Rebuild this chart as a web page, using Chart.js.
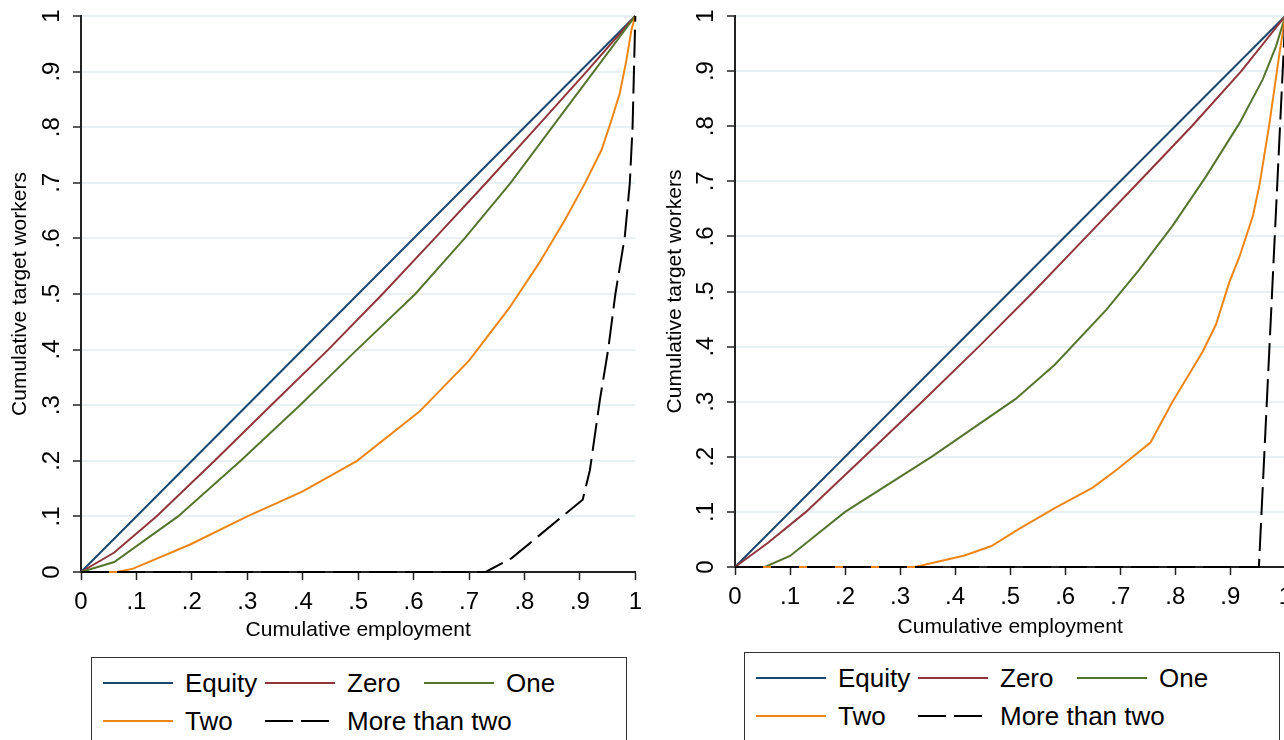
<!DOCTYPE html>
<html>
<head>
<meta charset="utf-8">
<script src="https://cdn.jsdelivr.net/npm/chart.js@4.4.1/dist/chart.umd.min.js"></script>
<style>
  html, body { margin: 0; padding: 0; background: #fff; }
  body { width: 1284px; height: 740px; overflow: hidden; position: relative;
         font-family: "Liberation Sans", Arial, Helvetica, sans-serif; }
  canvas { position: absolute; top: 0; }
  .legend { position: absolute; width: 536px; height: 120px; box-sizing: border-box;
            border: 1.5px solid #333; background: #fff; }
  .item { position: absolute; display: flex; align-items: center; height: 30px;
          font-size: 26px; color: #000; white-space: nowrap; }
  .item svg { display: block; margin-right: 12px; }
</style>
</head>
<body>
<canvas id="leftChart" width="650" height="660" style="left:0"></canvas>
<canvas id="rightChart" width="650" height="660" style="left:650px"></canvas>
<div id="leftLegend" class="legend" style="left:91px; top:657px"></div>
<div id="rightLegend" class="legend" style="left:744px; top:652px"></div>
<script>
'use strict';

// ─── Data ─────────────────────────────────────────────────────────────────────

const seriesNames = ['Equity', 'Zero', 'One', 'Two', 'More than two'];
const xTickValues = [0, 0.1, 0.2, 0.3, 0.4, 0.5, 0.6, 0.7, 0.8, 0.9, 1];
const xTickLabels = ['0', '.1', '.2', '.3', '.4', '.5', '.6', '.7', '.8', '.9', '1'];
const yTickValues = [0, 0.1, 0.2, 0.3, 0.4, 0.5, 0.6, 0.7, 0.8, 0.9, 1];
const yTickLabels = ['0', '.1', '.2', '.3', '.4', '.5', '.6', '.7', '.8', '.9', '1'];

// left panel
const leftEquityX = [0, 1];
const leftEquityY = [0, 1];
const leftZeroX = [0, 0.06, 0.136, 0.241, 0.343, 0.446, 0.544, 0.638, 0.731, 0.822, 0.912, 1];
const leftZeroY = [0, 0.035, 0.1, 0.2, 0.3, 0.4, 0.5, 0.6, 0.7, 0.8, 0.9, 1];
const leftOneX = [0, 0.06, 0.175, 0.288, 0.395, 0.498, 0.603, 0.692, 0.775, 0.85, 0.925, 1];
const leftOneY = [0, 0.018, 0.1, 0.2, 0.3, 0.4, 0.5, 0.6, 0.7, 0.8, 0.9, 1];
const leftTwoX = [0, 0.065, 0.094, 0.196, 0.3, 0.4, 0.498, 0.61, 0.7, 0.772, 0.826, 0.873, 0.909, 0.939, 0.957, 0.972, 0.984, 0.993, 1];
const leftTwoY = [0, 0, 0.006, 0.049, 0.1, 0.145, 0.2, 0.288, 0.38, 0.474, 0.555, 0.633, 0.699, 0.759, 0.813, 0.861, 0.921, 0.975, 1];
const leftMoreX = [0, 0.73, 0.777, 0.905, 0.918, 0.936, 0.951, 0.964, 0.981, 0.99, 0.995, 1];
const leftMoreY = [0, 0, 0.025, 0.13, 0.183, 0.309, 0.4, 0.5, 0.603, 0.699, 0.8, 1];

// right panel
const rightEquityX = [0, 1];
const rightEquityY = [0, 1];
const rightZeroX = [0, 0.06, 0.129, 0.235, 0.34, 0.443, 0.543, 0.639, 0.735, 0.83, 0.92, 1];
const rightZeroY = [0, 0.044, 0.1, 0.2, 0.3, 0.4, 0.5, 0.6, 0.7, 0.8, 0.9, 1];
const rightOneX = [0, 0.054, 0.1, 0.2, 0.357, 0.51, 0.581, 0.675, 0.735, 0.795, 0.856, 0.917, 0.959, 0.983, 1];
const rightOneY = [0, 0, 0.02, 0.1, 0.2, 0.305, 0.367, 0.467, 0.54, 0.619, 0.709, 0.806, 0.885, 0.945, 1];
const rightTwoX = [0, 0.327, 0.417, 0.466, 0.514, 0.581, 0.65, 0.693, 0.755, 0.795, 0.85, 0.874, 0.898, 0.917, 0.941, 0.953, 0.971, 0.989, 1];
const rightTwoY = [0, 0, 0.021, 0.038, 0.068, 0.107, 0.144, 0.176, 0.226, 0.3, 0.391, 0.44, 0.516, 0.564, 0.637, 0.693, 0.804, 0.93, 1];
const rightMoreX = [0, 0.952, 0.976, 1];
const rightMoreY = [0, 0, 0.5, 1];

// ─── Styles ───────────────────────────────────────────────────────────────────

const FONT = '"Liberation Sans", Arial, Helvetica, sans-serif';
const seriesColors = ['#1a476f', '#90353b', '#55752f', '#ee8616', '#000000'];
const seriesDashes = [[], [], [], [], [28, 8]];
const AXIS = '#222';
const GRID = 'rgb(232,240,243)';

const pts = (xs, ys) => xs.map((x, i) => ({ x, y: ys[i] }));

// y tick labels in the reference are rotated; draw them at the scale's own pixels
const rotatedYLabels = {
  id: 'rotatedYLabels',
  afterDraw(chart, args, opts) {
    const scale = chart.scales.y;
    const ctx = chart.ctx;
    ctx.save();
    ctx.font = `24px ${FONT}`;
    ctx.fillStyle = '#000';
    ctx.textAlign = 'center';
    ctx.textBaseline = 'alphabetic';
    yTickValues.forEach((v, i) => {
      ctx.save();
      ctx.translate(scale.right - opts.gap, scale.getPixelForValue(v));
      ctx.rotate(-Math.PI / 2);
      ctx.fillText(yTickLabels[i], 0, 0);
      ctx.restore();
    });
    ctx.restore();
  },
};

function makePanel(canvasId, xsList, ysList, g) {
  const datasets = xsList.map((xs, i) => ({
    label: seriesNames[i],
    data: pts(xs, ysList[i]),
    borderColor: seriesColors[i],
    borderWidth: 2,
    borderDash: seriesDashes[i],
    pointRadius: 0,
    tension: 0,
    fill: false,
    clip: false,
    order: xsList.length - 1 - i,
  }));

  return new Chart(document.getElementById(canvasId), {
    type: 'line',
    data: { datasets },
    plugins: [rotatedYLabels],
    options: {
      responsive: false,
      animation: false,
      devicePixelRatio: 1,
      layout: { padding: { top: g.top, right: g.right, left: 0, bottom: 0 } },
      plugins: {
        legend: { display: false },
        tooltip: { enabled: false },
        rotatedYLabels: { gap: 22 },
      },
      scales: {
        x: {
          type: 'linear',
          min: 0,
          max: 1,
          afterBuildTicks: (s) => { s.ticks = xTickValues.map(v => ({ value: v })); },
          afterFit: (s) => { s.height = g.xHeight; },
          border: { display: true, color: AXIS, width: 2 },
          grid: { drawOnChartArea: false, drawTicks: true, tickLength: 8, tickColor: AXIS, tickWidth: 1.5 },
          ticks: {
            color: '#000',
            padding: 8,
            maxRotation: 0,
            font: { family: FONT, size: 24 },
            callback: (v, i) => xTickLabels[i],
          },
          title: {
            display: true,
            text: 'Cumulative employment',
            color: '#000',
            font: { family: FONT, size: 21, lineHeight: 1.2 },
            padding: { top: 0, bottom: g.xTitlePad },
          },
        },
        y: {
          type: 'linear',
          min: 0,
          max: 1,
          afterBuildTicks: (s) => { s.ticks = yTickValues.map(v => ({ value: v })); },
          afterFit: (s) => { s.width = g.yWidth; },
          border: { display: true, color: AXIS, width: 2 },
          grid: { color: GRID, lineWidth: 2, drawTicks: true, tickLength: 8, tickColor: AXIS, tickWidth: 1.5 },
          ticks: { display: false },
          title: {
            display: true,
            text: 'Cumulative target workers',
            color: '#000',
            font: { family: FONT, size: 21, lineHeight: 1.2 },
            padding: { top: g.yTitlePad, bottom: 0 },
          },
        },
      },
    },
  });
}

function buildLegend(id) {
  const box = document.getElementById(id);
  const cols = [11, 173, 332];
  const rows = [25, 63];
  seriesNames.forEach((name, i) => {
    const item = document.createElement('div');
    item.className = 'item';
    item.style.left = cols[i % 3] + 'px';
    item.style.top = (rows[Math.floor(i / 3)] - 15) + 'px';
    const dash = seriesDashes[i].length ? `stroke-dasharray="${seriesDashes[i].join(' ')}"` : '';
    item.innerHTML = `<svg width="70" height="4"><line x1="0" y1="2" x2="70" y2="2" stroke="${seriesColors[i]}" stroke-width="2" ${dash}/></svg><span>${name}</span>`;
    box.appendChild(item);
  });
}

makePanel('leftChart',
  [leftEquityX, leftZeroX, leftOneX, leftTwoX, leftMoreX],
  [leftEquityY, leftZeroY, leftOneY, leftTwoY, leftMoreY],
  { top: 16, right: 13, yWidth: 81, xHeight: 88, xTitlePad: 17, yTitlePad: 8 });

makePanel('rightChart',
  [rightEquityX, rightZeroX, rightOneX, rightTwoX, rightMoreX],
  [rightEquityY, rightZeroY, rightOneY, rightTwoY, rightMoreY],
  { top: 16, right: 14, yWidth: 85, xHeight: 93, xTitlePad: 20, yTitlePad: 13 });

buildLegend('leftLegend');
buildLegend('rightLegend');
</script>
</body>
</html>
